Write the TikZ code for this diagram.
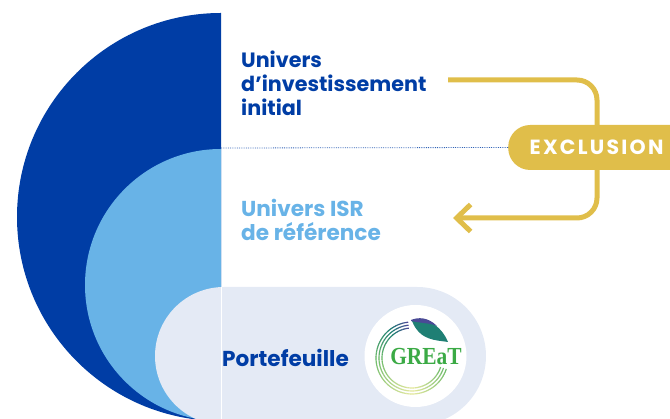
\documentclass[tikz,border=0pt]{standalone}
\usepackage{fontspec}
\setmainfont{Poppins}
\newfontfamily\logofont{Liberation Serif}
\usetikzlibrary{arrows.meta}
\definecolor{darkblue}{HTML}{003DA5}
\definecolor{midblue}{HTML}{68B3E7}
\definecolor{paleblue}{HTML}{E4EAF5}
\definecolor{goldy}{HTML}{E0BE4A}
\definecolor{logogreen}{HTML}{3BAA45}
\definecolor{logoteal}{HTML}{1F7F74}
\definecolor{logopurple}{HTML}{4A4A96}
\definecolor{logomid}{HTML}{6DBB6A}
\definecolor{logopale}{HTML}{E6E9A0}
\tikzset{
  label/.style={anchor=base west,inner sep=0pt,font=\fontsize{20.7}{24}\selectfont\bfseries},
  labelbig/.style={label,font=\fontsize{21.6}{24}\selectfont\bfseries},
  connector/.style={draw=goldy,line width=5pt,rounded corners=20pt},
  logoring/.style={line width=1.15pt},
}
\begin{document}
\begin{tikzpicture}[x=1pt,y=1pt]
\useasboundingbox (0,0) rectangle (670,419);
\clip (0,0) rectangle (670,419);
% nested half discs
\fill[darkblue] (221,406) arc[start angle=90,end angle=270,radius=204pt] -- cycle;
\fill[midblue] (221,270) arc[start angle=90,end angle=270,radius=136pt] -- cycle;
\fill[paleblue] (224,132) arc[start angle=90,end angle=270,radius=69pt]
  -- (417,-6) arc[start angle=-90,end angle=90,radius=69pt] -- cycle;
\draw[white,line width=0.6pt] (221,132) -- (221,0);
% labels
\node[label,text=darkblue] (univers1) at (241,351.5) {Univers};
\node[label,text=darkblue] (univers2) at (241,327.5) {d’investissement};
\node[label,text=darkblue] (univers3) at (241,303.5) {initial};
\node[labelbig,text=midblue] (isr1) at (241,202) {Univers ISR};
\node[labelbig,text=midblue] (isr2) at (241,178) {de référence};
\node[labelbig,text=darkblue] (portefeuille) at (222,52.5) {Portefeuille};
% connector
\coordinate (dotstart) at (221,271);
\coordinate (outstart) at (448,339);
\coordinate (inend) at (453,201);
\draw[connector,-{Straight Barb[length=14pt,width=27pt,line width=5pt]}]
  (outstart) -- (597,339) -- (597,201) -- (inend);
\node[fill=goldy,minimum width=190pt,minimum height=45pt,rounded corners=22pt,inner sep=0pt,anchor=west] (excl) at (508,271.5) {};
\draw[densely dotted,darkblue!80,line width=0.8pt] (dotstart) -- (excl.west);
\node[anchor=base west,inner sep=0pt,text=white,font=\fontsize{20.5}{24}\selectfont\bfseries] (excltext) at (529.5,264.5)
  {\addfontfeatures{LetterSpace=11}EXCLUSION};
% logo
\fill[white] (415.5,63) circle[radius=51pt];
\foreach \a in {96,99,...,339}{
  \pgfmathsetmacro{\b}{\a+3.4}
  \ifdim\a pt<125pt
    \pgfmathsetmacro{\p}{(\a-96)/29*100}
    \colorlet{ringc}{logoteal!\p!logopurple}
  \else\ifdim\a pt<180pt
    \pgfmathsetmacro{\p}{(\a-125)/55*100}
    \colorlet{ringc}{logomid!\p!logoteal}
  \else\ifdim\a pt<270pt
    \pgfmathsetmacro{\p}{(\a-180)/90*100}
    \colorlet{ringc}{logopale!\p!logomid}
  \else
    \pgfmathsetmacro{\p}{(\a-270)/70*100}
    \colorlet{ringc}{logomid!\p!logopale}
  \fi\fi\fi
  \foreach \r in {36,33,30}{
    \draw[ringc,logoring] ({412+\r*cos(\a)},{61+\r*sin(\a)}) arc[start angle=\a,end angle=\b,radius=\r pt];
  }
}
\fill[logoteal] (412,98) .. controls (425,103) and (441,94) .. (448,77)
  .. controls (436,79) and (420,78) .. (412,98) -- cycle;
\fill[logopurple] (411,99) .. controls (418,102) and (428,102) .. (437,93)
  .. controls (430,96) and (420,96) .. (411,98) -- cycle;
\node[inner sep=0pt,text=logogreen,anchor=base,xscale=0.875,font=\logofont\fontsize{24.5}{24}\selectfont\bfseries] (logo) at (426,54.5) {GREaT};
\end{tikzpicture}
\end{document}
